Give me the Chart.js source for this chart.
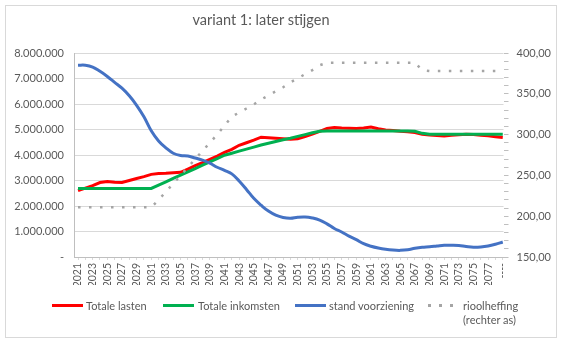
<!DOCTYPE html>
<html lang="nl">
<head>
<meta charset="UTF-8">
<title>variant 1: later stijgen</title>
<script src="https://cdn.jsdelivr.net/npm/chart.js"></script>
<style>
  body { margin: 0; background: #fff; font-family: Lato, sans-serif; color: #595959; }
  #wrap { position: relative; width: 562px; height: 343px; overflow: hidden; }
  #frame { position: absolute; left: 5px; top: 5px; width: 550px; height: 331px; border: 1px solid #d9d9d9; }
  #chart { position: absolute; left: 0; top: 0; }
  #title { position: absolute; left: 0; top: 11px; width: 522px; text-align: center; font-size: 14.5px; line-height: 18px; }
  .key { position: absolute; height: 3px; }
  .lbl { position: absolute; font-size: 11px; line-height: 13.6px; white-space: pre; }
</style>
</head>
<body>
<div id="wrap">
  <div id="frame"></div>
  <canvas id="chart" width="562" height="343"></canvas>
  <div id="title">variant 1: later stijgen</div>
  <div id="legend"></div>
</div>

<script>
// jaren op de x-as
const years = [
  2021, 2022, 2023, 2024, 2025, 2026, 2027, 2028, 2029, 2030,
  2031, 2032, 2033, 2034, 2035, 2036, 2037, 2038, 2039, 2040,
  2041, 2042, 2043, 2044, 2045, 2046, 2047, 2048, 2049, 2050,
  2051, 2052, 2053, 2054, 2055, 2056, 2057, 2058, 2059, 2060,
  2061, 2062, 2063, 2064, 2065, 2066, 2067, 2068, 2069, 2070,
  2071, 2072, 2073, 2074, 2075, 2076, 2077, 2078, 2079
];

// linker as (euro)
const totaleLasten = [
  2600000, 2700000, 2800000, 2920000, 2960000, 2930000, 2920000, 3000000, 3080000, 3150000,
  3240000, 3270000, 3280000, 3300000, 3320000, 3450000, 3580000, 3700000, 3830000, 3960000,
  4100000, 4220000, 4380000, 4480000, 4580000, 4700000, 4680000, 4660000, 4640000, 4620000,
  4640000, 4720000, 4820000, 4930000, 5040000, 5080000, 5060000, 5050000, 5040000, 5060000,
  5100000, 5030000, 4980000, 4960000, 4930000, 4910000, 4880000, 4810000, 4780000, 4760000,
  4750000, 4770000, 4790000, 4810000, 4800000, 4770000, 4750000, 4720000, 4690000
];
const totaleInkomsten = [
  2690000, 2690000, 2690000, 2690000, 2690000, 2690000, 2690000, 2690000, 2690000, 2690000,
  2690000, 2820000, 2950000, 3080000, 3210000, 3340000, 3470000, 3600000, 3730000, 3860000,
  3990000, 4070000, 4150000, 4230000, 4310000, 4390000, 4460000, 4530000, 4600000, 4660000,
  4730000, 4800000, 4870000, 4930000, 4940000, 4940000, 4940000, 4940000, 4940000, 4940000,
  4940000, 4940000, 4940000, 4940000, 4940000, 4940000, 4930000, 4850000, 4810000, 4810000,
  4810000, 4810000, 4810000, 4810000, 4810000, 4810000, 4810000, 4810000, 4810000
];
const standVoorziening = [
  7520000, 7520000, 7450000, 7280000, 7080000, 6850000, 6620000, 6320000, 5950000, 5500000,
  4950000, 4550000, 4280000, 4070000, 3980000, 3960000, 3880000, 3800000, 3680000, 3520000,
  3400000, 3260000, 2980000, 2650000, 2300000, 2030000, 1800000, 1640000, 1550000, 1520000,
  1560000, 1570000, 1530000, 1450000, 1300000, 1120000, 980000, 820000, 680000, 520000,
  420000, 350000, 300000, 270000, 260000, 280000, 340000, 380000, 400000, 430000,
  460000, 460000, 450000, 410000, 380000, 390000, 430000, 500000, 590000
];

// rechter as (euro per aansluiting)
const rioolheffing = [
  211, 211, 211, 211, 211, 211, 211, 211, 211, 211,
  211, 220, 230, 240, 250, 260, 270, 280, 290, 300,
  311, 322, 327, 332, 337, 343, 348, 353, 358, 364,
  369, 374, 379, 385, 388, 388, 388, 388, 388, 388,
  388, 388, 388, 388, 388, 388, 388, 379, 378, 378,
  378, 378, 378, 378, 378, 378, 378, 378, 378
];

const seriesNames = ['Totale lasten', 'Totale inkomsten', 'stand voorziening', 'rioolheffing\n(rechter as)'];
const seriesColors = ['#ff0000', '#00b050', '#4472c4', '#a5a5a5'];

const pts = arr => years.map((y, i) => ({ x: y, y: arr[i] }));

function euro(v) {
  if (v === 0) return '-';
  return String(Math.round(v)).replace(/\B(?=(\d{3})+(?!\d))/g, '.');
}

Chart.defaults.font.family = 'Lato, sans-serif';
Chart.defaults.font.size = 11;
Chart.defaults.color = '#595959';

new Chart(document.getElementById('chart'), {
  type: 'line',
  data: {
    datasets: [
      { label: seriesNames[3], data: pts(rioolheffing), yAxisID: 'y2', borderColor: seriesColors[3],
        borderWidth: 2.5, borderDash: [2.5, 8.5], borderCapStyle: 'butt', pointRadius: 0, order: 1 },
      { label: seriesNames[2], data: pts(standVoorziening), yAxisID: 'y', borderColor: seriesColors[2],
        borderWidth: 3, tension: 0.4, pointRadius: 0, order: 2 },
      { label: seriesNames[1], data: pts(totaleInkomsten), yAxisID: 'y', borderColor: seriesColors[1],
        borderWidth: 3, pointRadius: 0, order: 3 },
      { label: seriesNames[0], data: pts(totaleLasten), yAxisID: 'y', borderColor: seriesColors[0],
        borderWidth: 3, pointRadius: 0, order: 4 }
    ]
  },
  options: {
    responsive: false,
    animation: false,
    layout: { padding: { top: 53, left: 0, right: 0, bottom: 58 } },
    plugins: { legend: { display: false }, tooltip: { enabled: false } },
    scales: {
      x: {
        type: 'linear',
        min: 2020.45,
        max: 2079.1,
        afterBuildTicks: s => { s.ticks = years.map(v => ({ value: v })); },
        afterFit: s => { s.height = 28; },
        grid: { drawOnChartArea: false, tickLength: 3, color: '#d9d9d9' },
        border: { color: '#bfbfbf' },
        ticks: {
          autoSkip: false, maxRotation: 90, minRotation: 90, padding: 3, font: { size: 10.5 },
          callback: v => v === years[years.length - 1] ? '----' : (v % 2 === 1 ? String(v) : '')
        }
      },
      y: {
        position: 'left',
        min: 0, max: 8000000,
        afterFit: s => { s.width = 74; },
        grid: { color: '#d9d9d9', drawTicks: false },
        border: { color: '#bfbfbf' },
        ticks: { stepSize: 1000000, padding: 10, callback: euro }
      },
      y2: {
        position: 'right',
        min: 150, max: 400,
        afterFit: s => { s.width = 58.5; },
        grid: { drawOnChartArea: false, tickLength: 5, color: '#bfbfbf' },
        border: { display: false },
        ticks: {
          stepSize: 10, autoSkip: false, padding: 8,
          callback: v => v % 50 === 0 ? v.toFixed(2).replace('.', ',') : ''
        }
      }
    }
  }
});

// legenda onder de grafiek
const legendPos = [[52, 86], [163, 198], [295, 329], [428, 463]];
const legend = document.getElementById('legend');
seriesNames.forEach((name, i) => {
  const key = document.createElement('div');
  key.className = 'key';
  key.style.left = legendPos[i][0] + 'px';
  key.style.top = '304px';
  key.style.width = (i === 3 ? 25 : 31) + 'px';
  key.style.background = i === 3
    ? 'repeating-linear-gradient(to right, ' + seriesColors[i] + ' 0 2.5px, transparent 2.5px 11px)'
    : seriesColors[i];
  legend.appendChild(key);
  const lbl = document.createElement('div');
  lbl.className = 'lbl';
  lbl.style.left = legendPos[i][1] + 'px';
  lbl.style.top = '299px';
  lbl.textContent = name;
  legend.appendChild(lbl);
});
</script>
</body>
</html>
